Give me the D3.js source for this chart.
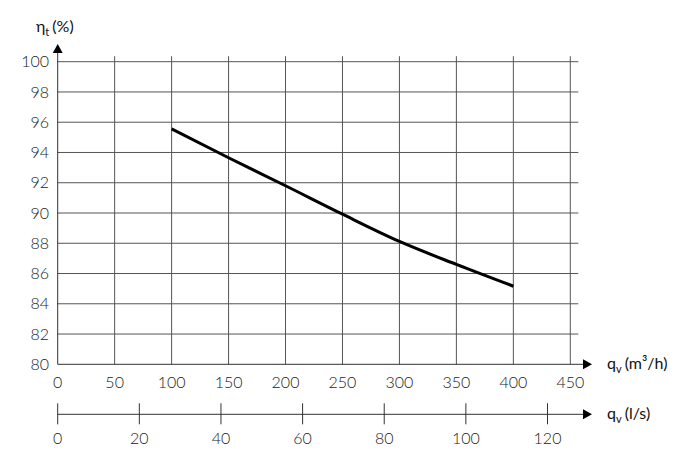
<!DOCTYPE html>
<html><head><meta charset="utf-8">
<script src="https://cdn.jsdelivr.net/npm/d3@7"></script>
<style>body{margin:0;background:#fff}svg{display:block}text{font-family:Lato,"Noto Sans",sans-serif;font-weight:300;fill:#222}text.title{font-weight:400;fill:#111}</style>
</head><body><svg id="c" width="700" height="465"></svg>
<script>
const flowM3h = [100, 150, 200, 250, 300, 350, 400];
const efficiency = [95.56, 93.65, 91.8, 89.92, 88.12, 86.6, 85.16];
const xTicks = [0, 50, 100, 150, 200, 250, 300, 350, 400, 450];
const yTicks = [80, 82, 84, 86, 88, 90, 92, 94, 96, 98, 100];
const lsTicks = [0, 20, 40, 60, 80, 100, 120];

const svg = d3.select("#c");
const x = d3.scaleLinear().domain([0, 450]).range([57.7, 570.3]);
const y = d3.scaleLinear().domain([80, 100]).range([364.3, 61.7]);
const x2 = d3.scaleLinear().domain([0, 120]).range([57.7, 547.5]);
const gridCol = "#555";

// grid
const g = svg.append("g");
g.selectAll(".h").data(yTicks.slice(1)).enter().append("line")
  .attr("x1", x(0)).attr("x2", x(450) + 8).attr("y1", d => y(d)).attr("y2", d => y(d))
  .attr("stroke", gridCol).attr("stroke-width", 1);
g.selectAll(".v").data(xTicks.slice(1)).enter().append("line")
  .attr("x1", d => x(d)).attr("x2", d => x(d)).attr("y1", y(100) - 5.5).attr("y2", y(80))
  .attr("stroke", gridCol).attr("stroke-width", 1);

// axes
svg.append("line").attr("x1", x(0)).attr("x2", 584).attr("y1", y(80)).attr("y2", y(80)).attr("stroke", "#333");
svg.append("line").attr("x1", x(0)).attr("x2", x(0)).attr("y1", y(80)).attr("y2", 52).attr("stroke", "#333");
svg.append("path").attr("d", `M592,${y(80)} L583,${y(80) - 5} L583,${y(80) + 5} Z`).attr("fill", "#000");
svg.append("path").attr("d", `M${x(0)},44 L${x(0) - 5},53 L${x(0) + 5},53 Z`).attr("fill", "#000");

// y tick labels
svg.selectAll(".yl").data(yTicks).enter().append("text")
  .attr("x", 49).attr("y", d => y(d)).attr("dy", "0.35em").attr("text-anchor", "end")
  .attr("font-size", 16).text(d => d);
// x tick labels
svg.selectAll(".xl").data(xTicks).enter().append("text")
  .attr("x", d => x(d)).attr("y", 382).attr("dy", "0.35em").attr("text-anchor", "middle")
  .attr("font-size", 16).text(d => d);

// second axis
const ay = 414.3;
svg.append("line").attr("x1", x2(0)).attr("x2", 584).attr("y1", ay).attr("y2", ay).attr("stroke", "#333");
svg.append("path").attr("d", `M592,${ay} L583,${ay - 5} L583,${ay + 5} Z`).attr("fill", "#000");
svg.selectAll(".t2").data(lsTicks).enter().append("line")
  .attr("x1", d => x2(d)).attr("x2", d => x2(d)).attr("y1", ay - 11).attr("y2", ay + 10)
  .attr("stroke", "#333");
svg.selectAll(".l2").data(lsTicks).enter().append("text")
  .attr("x", d => x2(d)).attr("y", 438).attr("dy", "0.35em").attr("text-anchor", "middle")
  .attr("font-size", 16).text(d => d);

// axis titles
const yt = svg.append("text").attr("class", "title").attr("x", 36).attr("y", 32).attr("font-size", 16);
yt.append("tspan").text("η");
yt.append("tspan").attr("font-size", 11).attr("dy", 4).text("t");
yt.append("tspan").attr("dy", -4).attr("dx", 3).text("(%)");

const xt = svg.append("text").attr("class", "title").attr("x", 607).attr("y", y(80) + 5).attr("font-size", 16);
xt.append("tspan").text("q");
xt.append("tspan").attr("font-size", 11).attr("dy", 4).text("v");
xt.append("tspan").attr("dy", -4).attr("dx", 3).text("(m³/h)");

const xt2 = svg.append("text").attr("class", "title").attr("x", 607).attr("y", ay + 5).attr("font-size", 16);
xt2.append("tspan").text("q");
xt2.append("tspan").attr("font-size", 11).attr("dy", 4).text("v");
xt2.append("tspan").attr("dy", -4).attr("dx", 3).text("(l/s)");

// curve
const data = flowM3h.map((q, i) => [q, efficiency[i]]);
svg.append("path").datum(data)
  .attr("d", d3.line().x(d => x(d[0])).y(d => y(d[1])).curve(d3.curveMonotoneX))
  .attr("fill", "none").attr("stroke", "#000").attr("stroke-width", 3);
</script></body></html>
